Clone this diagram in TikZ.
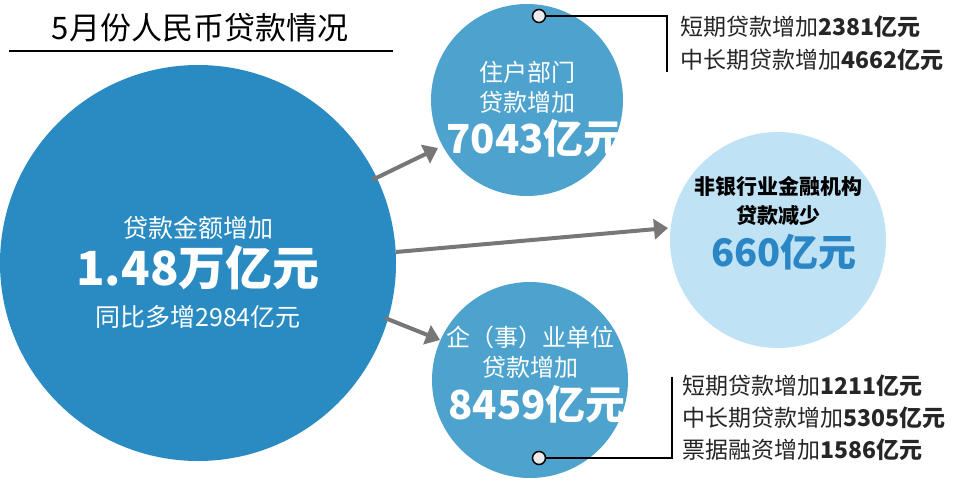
\documentclass[tikz,border=0pt]{standalone}
\usepackage{fontspec}
\setmainfont{Noto Sans CJK SC}
\usetikzlibrary{arrows.meta, positioning}
\definecolor{bigblue}{HTML}{2A8BC2}
\definecolor{midblue}{HTML}{4DA3CD}
\definecolor{paleblue}{HTML}{BFE2F4}
\definecolor{numblue}{HTML}{2A86C5}
\definecolor{arrowgray}{HTML}{777777}
\tikzset{
  bubble/.style={circle, inner sep=0pt, text=white, align=center},
  flow/.style={draw=arrowgray, line width=4pt, -{Triangle[length=14pt,width=20pt]}},
  pin/.style={circle, draw=black, fill=gray!15, line width=1.5pt, minimum size=13pt, inner sep=0pt},
  lead/.style={draw=black, line width=1.5pt},
  detail/.style={anchor=west, font=\fontsize{23}{25}\selectfont, text=black!85}
}
\begin{document}
\begin{tikzpicture}[x=1pt, y=-1pt]
            \useasboundingbox (0,0) rectangle (960,482);

            % Title
            \node (title) at (200,28) {\fontsize{31}{33}\selectfont 5月份人民币贷款情况};
            \draw[line width=1.5pt] (9,51) -- (393,51);

            % Circles
            \node[bubble, fill=bigblue, minimum size=396pt] (total) at (198,263) {};
            \node[bubble, fill=midblue, minimum size=192pt] (house) at (527,100) {};
            \node[bubble, fill=midblue, minimum size=196pt] (firm) at (530,380) {};
            \node[bubble, fill=paleblue, minimum size=216pt] (other) at (778,240) {};

            % Arrows
            \draw[flow] (372,180) -- (438,148);
            \draw[flow] (396,252) -- (668,228);
            \draw[flow] (385,318) -- (440,340);

            % Texts in circles
            \node[text=white] (t1) at (198,228) {\fontsize{25}{27}\selectfont 贷款金额增加};
            \node[text=white] (t2) at (198,268) {\fontsize{47}{49}\selectfont\bfseries 1.48万亿元};
            \node[text=white] (t3) at (198,317) {\fontsize{25}{27}\selectfont 同比多增2984亿元};

            \node[text=white] (h1) at (527,72) {\fontsize{24}{26}\selectfont 住户部门};
            \node[text=white] (h2) at (527,102) {\fontsize{24}{26}\selectfont 贷款增加};
            \node[text=white] (h3) at (535,138) {\fontsize{40}{42}\selectfont\bfseries 7043亿元};

            \node (o1) at (778,186) {\fontsize{21}{23}\selectfont\bfseries 非银行业金融机构};
            \node (o2) at (778,215) {\fontsize{21}{23}\selectfont\bfseries 贷款减少};
            \node[text=numblue] (o3) at (784,252) {\fontsize{38}{40}\selectfont\bfseries 660亿元};

            \node[text=white] (f1) at (530,337) {\fontsize{24}{26}\selectfont 企（事）业单位};
            \node[text=white] (f2) at (530,367) {\fontsize{24}{26}\selectfont 贷款增加};
            \node[text=white] (f3) at (537,404) {\fontsize{40}{42}\selectfont\bfseries 8459亿元};

            % Details
            \node[pin] (hp) at (539,16) {};
            \coordinate (hc) at (667,16);
            \draw[lead] (hp) -- (hc) -- (667,72);
            \node[detail] (d1) at (677,27) {短期贷款增加\textbf{2381亿元}};
            \node[detail] (d2) at (677,60) {中长期贷款增加\textbf{4662亿元}};

            \node[pin] (fp) at (539,458) {};
            \coordinate (fc) at (672,458);
            \draw[lead] (fp) -- (fc) -- (672,377);
            \node[detail] (e1) at (679,386) {短期贷款增加\textbf{1211亿元}};
            \node[detail] (e2) at (679,418) {中长期贷款增加\textbf{5305亿元}};
            \node[detail] (e3) at (679,450) {票据融资增加\textbf{1586亿元}};
        \end{tikzpicture}
\end{document}
